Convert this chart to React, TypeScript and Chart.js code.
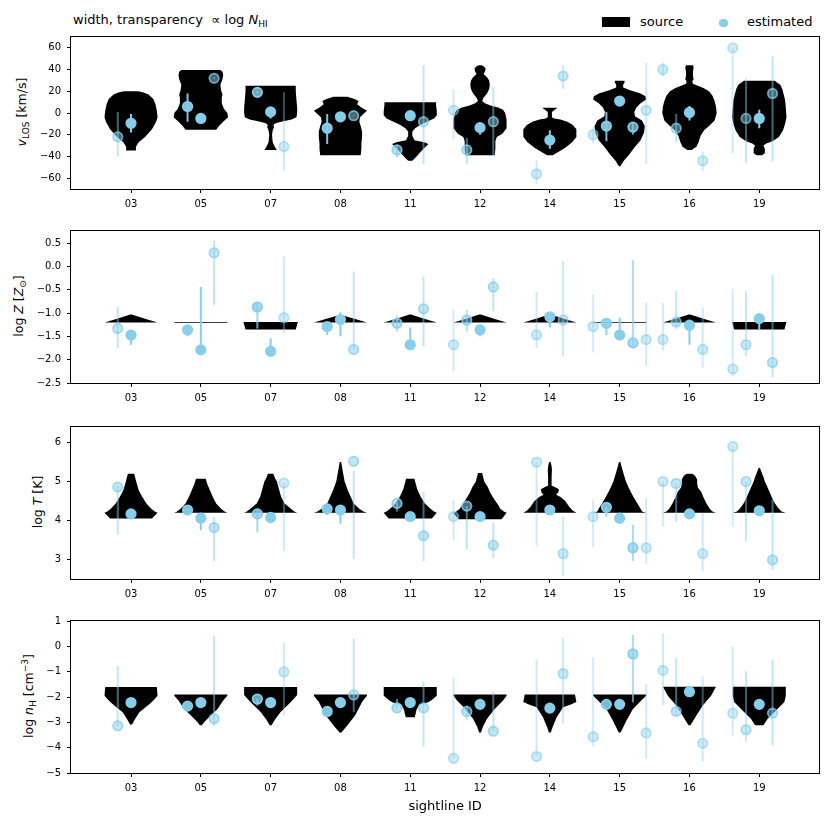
import { useEffect, useRef } from "react";
import { Chart, registerables, type Plugin } from "chart.js";

Chart.register(...registerables);

const sightlines = ["03", "05", "07", "08", "11", "12", "14", "15", "16", "19"];

// opacity of every estimated component (scales with log N_HI)
const componentAlpha = [
  [0.5, 1],
  [0.95, 1, 0.5],
  [0.8, 1, 0.4],
  [0.95, 1, 0.5],
  [0.6, 1, 0.5],
  [0.4, 0.55, 1, 0.5],
  [0.4, 1, 0.45],
  [0.4, 0.9, 1, 0.7, 0.4],
  [0.4, 0.5, 1, 0.4],
  [0.38, 0.45, 1, 0.5],
];

// ---- v_LOS [km/s]
const vlos = [
  [-22, -9.5],
  [6, -5, 32],
  [19, 1, -31],
  [-14, -3.5, -2.5],
  [-34, -2.5, -8],
  [2.5, -34, -13.5, -8],
  [-56, -25, 34],
  [-20, -12, 11, -13, 2.5],
  [40, -14, 0.5, -44],
  [60, -5, -5, 18],
];
const vlosLo = [
  [-40, -18],
  [-8, -6, 31],
  [18, -5, -53],
  [-28.5, -4, -3],
  [-41, -3, -47],
  [-24, -47, -20, -39],
  [-65.5, -33, 22],
  [-28, -26, 10, -20, -47],
  [33.5, -27, -7, -53],
  [-37, -46, -14, -44.5],
];
const vlosHi = [
  [1, -1],
  [18, -4, 33],
  [20, 2, 19],
  [-1, -3, -2],
  [-30, -2, 44],
  [22, -23, -9, 24],
  [-43.5, -16, 44],
  [-13, 1, 12, -9, 46],
  [47, -1, 6.5, -36],
  [60, 32, 3, 52],
];
// source violins: [value, half width]
const vlosViolins = [
  [[-34.5, 0.07], [-31, 0.07], [-27, 0.11], [-22, 0.2], [-15, 0.3], [-8, 0.36], [-4, 0.38], [2, 0.37], [8, 0.35], [13, 0.32], [17, 0.25], [19, 0.17], [20, 0.1]],
  [[-15.5, 0.22], [-12, 0.26], [-8, 0.32], [-4, 0.39], [0, 0.38], [4, 0.33], [9, 0.3], [14, 0.3], [17, 0.31], [21, 0.29], [26, 0.28], [31, 0.31], [35, 0.32], [38, 0.31], [39.7, 0.28]],
  [[-34, 0.09], [-31, 0.06], [-27, 0.03], [-20, 0.02], [-16, 0.03], [-13, 0.05], [-11, 0.04], [-9.5, 0.07], [-8, 0.15], [-6, 0.3], [-4, 0.37], [0, 0.38], [5, 0.38], [12, 0.37], [20, 0.36], [25, 0.36]],
  [[-39, 0.29], [-33, 0.3], [-28, 0.3], [-22, 0.31], [-17, 0.31], [-12, 0.29], [-8, 0.27], [-4, 0.28], [-1, 0.33], [2, 0.38], [5, 0.3], [8, 0.24], [11, 0.26], [13, 0.2], [15, 0.1]],
  [[-44, 0.03], [-40, 0.09], [-35, 0.16], [-31, 0.22], [-28.5, 0.26], [-27, 0.2], [-25, 0.06], [-21, 0.03], [-17, 0.03], [-14, 0.07], [-11, 0.14], [-8, 0.24], [-5, 0.34], [-2, 0.38], [2, 0.38], [7, 0.37], [10, 0.37]],
  [[-39, 0.21], [-33, 0.22], [-26, 0.22], [-22, 0.24], [-19, 0.32], [-14, 0.38], [-6, 0.38], [0, 0.36], [3, 0.33], [5, 0.26], [7, 0.15], [9, 0.07], [11, 0.03], [14, 0.05], [18, 0.1], [22, 0.13], [26, 0.14], [30, 0.13], [33, 0.1], [36, 0.05], [38, 0.07], [41, 0.08], [43, 0.05], [44, 0.02]],
  [[-39, 0.04], [-36, 0.12], [-32, 0.22], [-27, 0.32], [-22, 0.38], [-15, 0.38], [-11, 0.33], [-8, 0.25], [-6, 0.15], [-5, 0.06], [-4, 0.03], [1, 0.03], [3, 0.07], [4.8, 0.11]],
  [[-49, 0.01], [-44, 0.06], [-38, 0.14], [-31, 0.22], [-25, 0.3], [-18, 0.35], [-12, 0.36], [-7, 0.32], [-3, 0.22], [1, 0.21], [5, 0.24], [9, 0.3], [12.5, 0.38], [15.5, 0.37], [18, 0.3], [21, 0.15], [23.5, 0.05], [26, 0.05], [28, 0.07], [29.7, 0.07]],
  [[-34, 0.03], [-31, 0.1], [-27, 0.13], [-21, 0.16], [-16, 0.21], [-12, 0.28], [-7, 0.36], [0, 0.39], [6, 0.38], [11, 0.36], [16, 0.33], [20, 0.28], [23, 0.2], [25, 0.12], [27, 0.05], [29, 0.04], [31, 0.06], [34, 0.05], [38, 0.05], [42, 0.06], [44, 0.05]],
  [[-39, 0.04], [-37, 0.08], [-33, 0.08], [-30, 0.06], [-28, 0.1], [-26, 0.19], [-22, 0.28], [-16, 0.34], [-10, 0.37], [-4, 0.39], [5, 0.38], [12, 0.37], [17, 0.35], [22, 0.33], [26, 0.3], [29.7, 0.22]],
];
const vlosTicks = [-60, -40, -20, 0, 20, 40, 60];

// ---- log Z [Z_sun]
const logZ = [
  [-1.33, -1.47],
  [-1.36, -1.79, 0.29],
  [-0.87, -1.82, -1.1],
  [-1.29, -1.14, -1.78],
  [-1.22, -1.68, -0.91],
  [-1.68, -1.15, -1.36, -0.44],
  [-1.47, -1.08, -1.15],
  [-1.29, -1.22, -1.47, -1.64, -1.57],
  [-1.57, -1.19, -1.26, -1.78],
  [-2.2, -1.68, -1.12, -2.06],
];
const logZLo = [
  [-1.75, -1.68],
  [-1.5, -1.8, -0.84],
  [-1.33, -1.82, -1.43],
  [-1.47, -1.5, -1.78],
  [-1.4, -1.68, -1.71],
  [-2.24, -1.4, -1.5, -0.96],
  [-1.75, -1.31, -1.92],
  [-1.84, -1.47, -1.57, -1.71, -2.13],
  [-1.8, -1.35, -1.68, -2.17],
  [-2.35, -1.92, -1.36, -2.38],
];
const logZHi = [
  [-0.87, -1.36],
  [-1.27, -0.44, 0.55],
  [-0.8, -1.54, 0.22],
  [-1.19, -0.98, -0.11],
  [-1.05, -1.31, -0.22],
  [-0.93, -0.93, -1.28, -0.25],
  [-0.55, -1.08, 0.11],
  [-0.6, -1.22, -1.1, 0.13, -0.77],
  [-0.79, -0.52, -1.15, -0.88],
  [-0.48, -0.53, -1.12, -0.18],
];
const logZViolins = [
  [[-1.205, 0.38], [-1.12, 0.2], [-1.03, 0.01]],
  [[-1.215, 0.38], [-1.195, 0.38]],
  [[-1.35, 0.36], [-1.19, 0.39]],
  [[-1.205, 0.38], [-1.12, 0.2], [-1.04, 0.01]],
  [[-1.205, 0.38], [-1.12, 0.2], [-1.03, 0.01]],
  [[-1.205, 0.38], [-1.12, 0.2], [-1.03, 0.01]],
  [[-1.205, 0.38], [-1.12, 0.2], [-1.03, 0.01]],
  [[-1.215, 0.38], [-1.195, 0.38]],
  [[-1.205, 0.38], [-1.12, 0.2], [-1.03, 0.01]],
  [[-1.35, 0.36], [-1.19, 0.39]],
];
const logZTicks = [-2.5, -2, -1.5, -1, -0.5, 0, 0.5];

// ---- log T [K]
const logT = [
  [4.86, 4.17],
  [4.27, 4.06, 3.82],
  [4.17, 4.08, 4.96],
  [4.3, 4.27, 5.52],
  [4.44, 4.1, 3.61],
  [4.1, 4.37, 4.1, 3.37],
  [5.5, 4.27, 3.15],
  [4.1, 4.34, 4.06, 3.3, 3.3],
  [5.0, 4.95, 4.17, 3.15],
  [5.9, 5.0, 4.25, 2.99],
];
const logTLo = [
  [3.64, 4.15],
  [4.25, 3.75, 2.96],
  [3.7, 4.06, 3.21],
  [4.14, 3.92, 3.02],
  [4.23, 4.08, 2.96],
  [3.51, 3.26, 4.08, 3.04],
  [3.36, 4.25, 2.58],
  [3.32, 4.1, 3.92, 2.96, 2.9],
  [3.86, 3.97, 4.15, 2.7],
  [3.85, 3.47, 4.23, 2.73],
];
const logTHi = [
  [4.9, 4.2],
  [4.3, 4.08, 4.1],
  [4.27, 4.1, 4.96],
  [4.32, 4.3, 5.28],
  [4.46, 4.12, 4.73],
  [4.54, 4.37, 4.12, 3.95],
  [5.5, 4.3, 4.1],
  [4.54, 4.36, 4.08, 3.89, 4.57],
  [5.0, 4.95, 4.2, 4.19],
  [5.9, 5.0, 4.27, 4.54],
];
const logTViolins = [
  [[4.05, 0.3], [4.2, 0.38], [4.23, 0.34], [4.3, 0.29], [4.44, 0.22], [4.61, 0.16], [4.78, 0.11], [5.03, 0.07], [5.2, 0.045]],
  [[4.2, 0.38], [4.23, 0.34], [4.3, 0.29], [4.44, 0.22], [4.61, 0.17], [4.78, 0.13], [4.95, 0.09], [5.07, 0.07]],
  [[4.2, 0.38], [4.23, 0.34], [4.3, 0.29], [4.44, 0.2], [4.61, 0.15], [4.8, 0.12], [5.0, 0.09], [5.1, 0.06], [5.2, 0.04]],
  [[4.2, 0.38], [4.23, 0.33], [4.3, 0.27], [4.44, 0.19], [4.6, 0.15], [4.8, 0.1], [5.0, 0.06], [5.2, 0.04], [5.5, 0.01]],
  [[4.05, 0.31], [4.2, 0.38], [4.23, 0.34], [4.3, 0.29], [4.44, 0.21], [4.61, 0.15], [4.8, 0.1], [5.0, 0.07], [5.07, 0.06]],
  [[4.03, 0.31], [4.2, 0.38], [4.23, 0.34], [4.3, 0.29], [4.4, 0.26], [4.55, 0.2], [4.7, 0.15], [4.86, 0.11], [5.0, 0.06], [5.22, 0.03]],
  [[4.2, 0.38], [4.25, 0.33], [4.35, 0.28], [4.5, 0.22], [4.6, 0.16], [4.66, 0.09], [4.72, 0.12], [4.8, 0.13], [4.86, 0.07], [4.9, 0.025], [5.1, 0.025], [5.3, 0.03], [5.4, 0.025], [5.5, 0.01]],
  [[4.2, 0.38], [4.23, 0.32], [4.3, 0.3], [4.45, 0.25], [4.6, 0.2], [4.8, 0.14], [5.0, 0.09], [5.24, 0.05], [5.4, 0.025], [5.5, 0.01]],
  [[4.2, 0.38], [4.23, 0.33], [4.3, 0.29], [4.45, 0.24], [4.6, 0.2], [4.73, 0.17], [4.85, 0.12], [4.95, 0.11], [5.05, 0.11], [5.15, 0.08], [5.2, 0.04]],
  [[4.2, 0.38], [4.23, 0.32], [4.3, 0.28], [4.45, 0.22], [4.6, 0.18], [4.8, 0.13], [5.0, 0.08], [5.12, 0.06], [5.25, 0.03], [5.35, 0.01]],
];
const logTTicks = [3, 4, 5, 6];

// ---- log n_H [cm^-3]
const lognH = [
  [-3.14, -2.22],
  [-2.36, -2.22, -2.86],
  [-2.08, -2.22, -1.01],
  [-2.57, -2.22, -1.92],
  [-2.43, -2.22, -2.43],
  [-4.42, -2.57, -2.29, -3.35],
  [-4.35, -2.44, -1.08],
  [-3.57, -2.29, -2.29, -0.3, -3.42],
  [-0.95, -2.57, -1.79, -3.83],
  [-2.64, -3.29, -2.29, -2.64],
];
const lognHLo = [
  [-3.14, -2.25],
  [-2.38, -2.25, -3.14],
  [-2.34, -2.25, -2.73],
  [-2.6, -2.25, -2.6],
  [-2.45, -2.25, -3.96],
  [-4.42, -2.92, -2.3, -3.35],
  [-4.35, -2.46, -3.05],
  [-3.96, -2.3, -2.3, -2.21, -4.44],
  [-2.34, -2.73, -1.8, -4.55],
  [-3.53, -3.77, -2.3, -3.92],
];
const lognHHi = [
  [-0.78, -2.2],
  [-2.34, -2.2, 0.42],
  [-2.06, -2.2, 0.13],
  [-2.55, -2.2, 0.32],
  [-2.08, -2.2, -1.4],
  [-1.23, -2.34, -2.28, -1.79],
  [-0.52, -2.42, 0.32],
  [-0.45, -2.28, -2.28, 0.45, -1.49],
  [0.52, -0.45, -1.78, -1.19],
  [-0.03, -0.97, -2.28, -0.52],
];
const lognHViolins = [
  [[-3.09, 0.014], [-2.86, 0.06], [-2.6, 0.12], [-2.34, 0.24], [-2.14, 0.32], [-1.95, 0.38], [-1.61, 0.37]],
  [[-3.12, 0.014], [-2.99, 0.05], [-2.79, 0.12], [-2.47, 0.24], [-2.14, 0.32], [-1.95, 0.38], [-1.9, 0.38]],
  [[-3.12, 0.014], [-2.9, 0.06], [-2.6, 0.14], [-2.2, 0.29], [-1.92, 0.38], [-1.61, 0.38]],
  [[-3.4, 0.014], [-3.12, 0.1], [-2.73, 0.21], [-2.2, 0.31], [-1.95, 0.38], [-1.9, 0.38]],
  [[-2.8, 0.065], [-2.5, 0.09], [-2.3, 0.13], [-2.22, 0.25], [-2.14, 0.3], [-1.95, 0.38], [-1.61, 0.38]],
  [[-3.4, 0.014], [-3.18, 0.04], [-2.86, 0.1], [-2.47, 0.21], [-2.14, 0.33], [-1.95, 0.38], [-1.9, 0.38]],
  [[-3.4, 0.014], [-3.18, 0.04], [-2.79, 0.1], [-2.4, 0.19], [-2.3, 0.3], [-2.2, 0.38], [-1.9, 0.36]],
  [[-3.4, 0.014], [-2.92, 0.1], [-2.47, 0.19], [-2.14, 0.31], [-1.95, 0.38], [-1.9, 0.38]],
  [[-3.12, 0.014], [-2.73, 0.1], [-2.34, 0.19], [-1.95, 0.31], [-1.6, 0.38]],
  [[-3.12, 0.06], [-2.86, 0.12], [-2.53, 0.24], [-2.2, 0.36], [-1.95, 0.38], [-1.6, 0.38]],
];
const lognHTicks = [-5, -4, -3, -2, -1, 0, 1];

const COMP_STEP = 0.19;
const AXES_LEFT = 71;
const AXES_RIGHT = 819.3;
const AXES_H = 154;
const PAD_TOP = 10;
const FONT = "DejaVu Sans";
const sky = (a: number) => `rgba(135, 206, 235, ${a})`;

type Panel = {
  values: number[][];
  lo: number[][];
  hi: number[][];
  violins: number[][][];
  min: number;
  max: number;
  ticks: number[];
  digits: number;
};

const panels: Panel[] = [
  { values: vlos, lo: vlosLo, hi: vlosHi, violins: vlosViolins, min: -70, max: 70, ticks: vlosTicks, digits: 0 },
  { values: logZ, lo: logZLo, hi: logZHi, violins: logZViolins, min: -2.5, max: 0.76, ticks: logZTicks, digits: 1 },
  { values: logT, lo: logTLo, hi: logTHi, violins: logTViolins, min: 2.5, max: 6.4, ticks: logTTicks, digits: 0 },
  { values: lognH, lo: lognHLo, hi: lognHHi, violins: lognHViolins, min: -5, max: 1, ticks: lognHTicks, digits: 0 },
];
const panelTops = [35, 229.3, 424.7, 619.3];

function PanelChart({ panel, top, xAxisHeight, xTitle }: { panel: Panel; top: number; xAxisHeight: number; xTitle?: string }) {
  const canvasRef = useRef<HTMLCanvasElement | null>(null);
  const height = PAD_TOP + AXES_H + xAxisHeight;

  useEffect(() => {
    if (!canvasRef.current) return;

    const points: { x: number; y: number; lo: number; hi: number; a: number }[] = [];
    panel.values.forEach((comps, s) => {
      const n = comps.length;
      comps.forEach((v, i) => {
        points.push({
          x: s + (i - Math.floor(n / 2)) * COMP_STEP,
          y: v,
          lo: panel.lo[s][i],
          hi: panel.hi[s][i],
          a: componentAlpha[s][i],
        });
      });
    });

    const overlay: Plugin<"scatter"> = {
      id: "violinsAndErrors",
      beforeDatasetsDraw(chart) {
        const { ctx, chartArea: area } = chart;
        const xs = chart.scales.x;
        const ys = chart.scales.y;
        ctx.save();
        ctx.beginPath();
        ctx.rect(area.left, area.top, area.right - area.left, area.bottom - area.top);
        ctx.clip();
        ctx.fillStyle = "#000";
        panel.violins.forEach((profile, s) => {
          ctx.beginPath();
          profile.forEach(([v, w], k) => {
            const px = xs.getPixelForValue(s - w);
            const py = ys.getPixelForValue(v);
            if (k === 0) ctx.moveTo(px, py);
            else ctx.lineTo(px, py);
          });
          for (let k = profile.length - 1; k >= 0; k--) {
            const [v, w] = profile[k];
            ctx.lineTo(xs.getPixelForValue(s + w), ys.getPixelForValue(v));
          }
          ctx.closePath();
          ctx.fill();
        });
        ctx.lineWidth = 2;
        points.forEach((p) => {
          const px = xs.getPixelForValue(p.x);
          ctx.strokeStyle = sky(p.a);
          ctx.beginPath();
          ctx.moveTo(px, ys.getPixelForValue(p.lo));
          ctx.lineTo(px, ys.getPixelForValue(p.hi));
          ctx.stroke();
        });
        ctx.restore();
      },
      afterDatasetsDraw(chart) {
        const { ctx, chartArea: area } = chart;
        ctx.save();
        ctx.strokeStyle = "#000";
        ctx.lineWidth = 1;
        const l = Math.round(area.left) - 0.5;
        const t = Math.round(area.top) - 0.5;
        ctx.strokeRect(l, t, Math.round(area.right) - Math.round(area.left) + 1, Math.round(area.bottom) - Math.round(area.top) + 1);
        ctx.restore();
      },
    };

    const tickFont = { family: FONT, size: 10 };
    const chart = new Chart(canvasRef.current, {
      type: "scatter",
      data: {
        datasets: [
          {
            data: points.map((p) => ({ x: p.x, y: p.y })),
            pointRadius: 4.7,
            pointHoverRadius: 4.7,
            pointBorderWidth: 1.8,
            pointBackgroundColor: points.map((p) => sky(p.a)),
            pointBorderColor: points.map((p) => sky(Math.min(1, p.a * 1.5))),
          },
        ],
      },
      options: {
        animation: false,
        responsive: false,
        events: [],
        layout: { padding: { top: PAD_TOP, right: 831 - AXES_RIGHT, bottom: 0, left: 0 } },
        plugins: { legend: { display: false }, tooltip: { enabled: false } },
        scales: {
          x: {
            type: "linear",
            min: -0.86,
            max: 9.86,
            afterBuildTicks: (scale) => {
              scale.ticks = sightlines.map((_, i) => ({ value: i }));
            },
            afterFit: (scale) => {
              scale.height = xAxisHeight;
            },
            ticks: {
              autoSkip: false,
              maxRotation: 0,
              padding: 5,
              color: "#000",
              font: tickFont,
              callback: (v) => sightlines[Number(v)] ?? "",
            },
            grid: { drawOnChartArea: false, tickLength: 4, color: "#000", lineWidth: 1 },
            border: { display: false },
            title: {
              display: !!xTitle,
              text: xTitle ?? "",
              color: "#000",
              font: { family: FONT, size: 13 },
              padding: { top: 0, bottom: 9 },
            },
          },
          y: {
            type: "linear",
            min: panel.min,
            max: panel.max,
            afterBuildTicks: (scale) => {
              scale.ticks = panel.ticks.map((v) => ({ value: v }));
            },
            afterFit: (scale) => {
              scale.width = AXES_LEFT;
            },
            ticks: {
              padding: 6,
              color: "#000",
              font: tickFont,
              callback: (v) => Number(v).toFixed(panel.digits).replace("-", "\u2212"),
            },
            grid: { drawOnChartArea: false, tickLength: 4, color: "#000", lineWidth: 1 },
            border: { display: false },
          },
        },
      },
      plugins: [overlay],
    });

    return () => {
      chart.destroy();
    };
  }, [panel, xAxisHeight, xTitle]);

  return (
    <canvas
      ref={canvasRef}
      width={831}
      height={height}
      style={{ position: "absolute", left: 0, top: top - PAD_TOP, width: 831, height }}
    />
  );
}

const yLabels = [
  { x: 22, node: (<><i>v</i><span style={{ fontSize: 9, position: "relative", top: 3 }}>LOS</span> [km/s]</>) },
  { x: 19, node: (<>log <i>Z</i> [<i>Z</i><span style={{ fontSize: 9, position: "relative", top: 3 }}>⊙</span>]</>) },
  { x: 37, node: (<>log <i>T</i> [K]</>) },
  { x: 29, node: (<>log <i>n</i><span style={{ fontSize: 9, position: "relative", top: 3 }}>H</span> [cm<span style={{ fontSize: 9, position: "relative", top: -5 }}>−3</span>]</>) },
];

export default function App() {
  return (
    <div
      style={{
        position: "absolute",
        left: 0,
        top: 0,
        width: 831,
        height: 827,
        background: "#fff",
        fontFamily: FONT,
        color: "#000",
        overflow: "hidden",
      }}
    >
      <div style={{ position: "absolute", left: 73, top: 12, fontSize: 13, lineHeight: "15px", whiteSpace: "nowrap" }}>
        width, transparency &nbsp;∝ log <i>N</i>
        <span style={{ fontSize: 9, position: "relative", top: 3 }}>HI</span>
      </div>

      <div style={{ position: "absolute", left: 602, top: 17, width: 28, height: 10, background: "#000" }} />
      <div style={{ position: "absolute", left: 640, top: 14, fontSize: 13, lineHeight: "15px" }}>source</div>
      <div
        style={{
          position: "absolute",
          left: 719,
          top: 18.5,
          width: 8.6,
          height: 8.6,
          borderRadius: "50%",
          background: "rgb(135, 206, 235)",
        }}
      />
      <div style={{ position: "absolute", left: 747, top: 14, fontSize: 13, lineHeight: "15px" }}>estimated</div>

      {yLabels.map((l, i) => (
        <div
          key={i}
          style={{
            position: "absolute",
            left: l.x,
            top: panelTops[i] + AXES_H / 2,
            transform: "translate(-50%, -50%) rotate(-90deg)",
            fontSize: 12.5,
            lineHeight: "15px",
            whiteSpace: "nowrap",
          }}
        >
          {l.node}
        </div>
      ))}

      {panels.map((p, i) => (
        <PanelChart
          key={i}
          panel={p}
          top={panelTops[i]}
          xAxisHeight={i === 3 ? 50 : 28}
          xTitle={i === 3 ? "sightline ID" : undefined}
        />
      ))}
    </div>
  );
}
